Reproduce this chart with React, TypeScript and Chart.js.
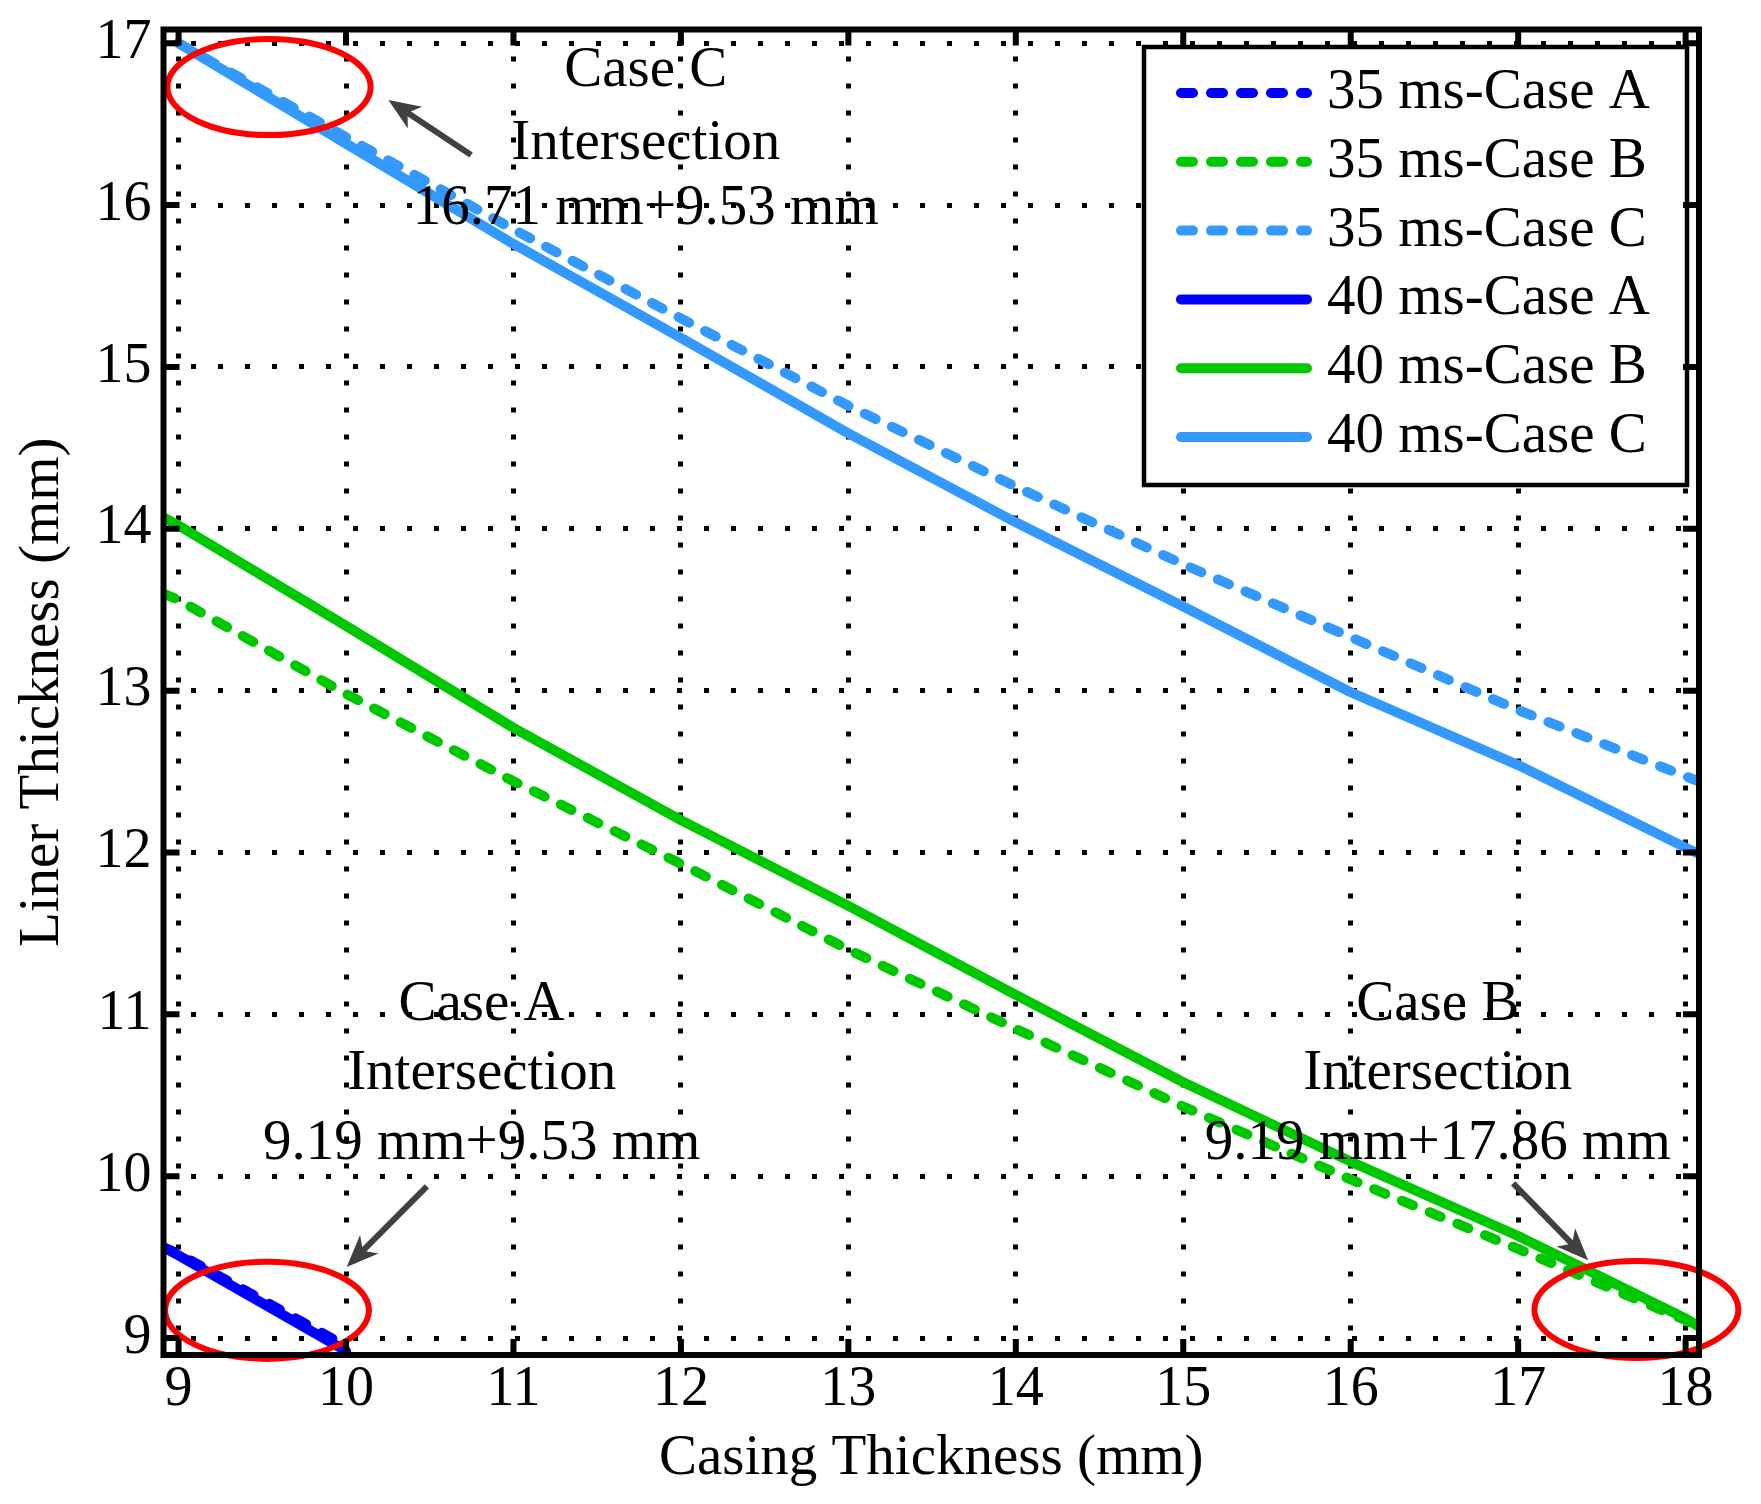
import { useEffect, useRef } from "react";
import { Chart, registerables } from "chart.js";
import type { ChartConfiguration, Plugin } from "chart.js";

Chart.register(...registerables);

const SERIF = '"Liberation Serif", "Times New Roman", serif';

// Casing thickness (mm) at which the curves were read
const casing = [8.91, 9, 10, 11, 12, 13, 14, 15, 16, 17, 18, 18.08];

// Liner thickness (mm) per case, null where a curve is not drawn
const liner35A = [9.56, 9.52, 8.95, null, null, null, null, null, null, null, null, null];
const liner35B = [13.6, 13.56, 12.98, 12.44, 11.93, 11.4, 10.91, 10.43, 9.98, 9.55, 9.11, 9.07];
const liner35C = [null, 17.0, 16.42, 15.85, 15.3, 14.76, 14.26, 13.78, 13.33, 12.88, 12.47, 12.44];
const liner40A = [9.56, 9.51, 8.92, null, null, null, null, null, null, null, null, null];
const liner40B = [14.07, 14.02, 13.4, 12.77, 12.2, 11.67, 11.12, 10.58, 10.09, 9.63, 9.12, 9.07];
const liner40C = [null, 17.0, 16.38, 15.76, 15.18, 14.59, 14.04, 13.52, 12.99, 12.54, 12.03, 11.99];

const seriesNames = [
  "35 ms-Case A",
  "35 ms-Case B",
  "35 ms-Case C",
  "40 ms-Case A",
  "40 ms-Case B",
  "40 ms-Case C",
];

const xTicks = [9, 10, 11, 12, 13, 14, 15, 16, 17, 18];
const yTicks = [9, 10, 11, 12, 13, 14, 15, 16, 17];

// text notes, red rings and arrows, in data units
const notes = [
  { x: 11.79, y: [16.83, 16.38, 15.976], lines: ["Case C", "Intersection", "16.71 mm+9.53 mm"] },
  { x: 10.81, y: [11.06, 10.63, 10.2], lines: ["Case A", "Intersection", "9.19 mm+9.53 mm"] },
  { x: 16.52, y: [11.06, 10.63, 10.2], lines: ["Case B", "Intersection", "9.19 mm+17.86 mm"] },
];
const rings = [
  { x: 9.54, y: 16.73, rx: 0.607, ry: 0.297 },
  { x: 9.528, y: 9.171, rx: 0.609, ry: 0.3 },
  { x: 17.706, y: 9.176, rx: 0.609, ry: 0.3 },
];
const arrows = [
  { from: [10.747, 16.31], to: [10.253, 16.65] },
  { from: [10.483, 9.937], to: [10.004, 9.439] },
  { from: [16.97, 9.956], to: [17.418, 9.48] },
];

const BLUE = "#0000FF";
const GREEN = "#00C800";
const SKY = "#3399FF";
const DASH = [12, 18];

function series(label: string, values: (number | null)[], color: string, dashed: boolean) {
  return {
    label,
    data: casing.map((x, i) => ({ x, y: values[i] })),
    borderColor: color,
    backgroundColor: color,
    borderWidth: 10,
    borderDash: dashed ? DASH : [],
    borderCapStyle: "round" as const,
    borderJoinStyle: "round" as const,
    pointRadius: 0,
    tension: 0,
    spanGaps: false,
    order: dashed ? 1 : 0,
  };
}

function drawArrow(ctx: CanvasRenderingContext2D, x0: number, y0: number, x1: number, y1: number) {
  const a = Math.atan2(y1 - y0, x1 - x0);
  const c = Math.cos(a);
  const s = Math.sin(a);
  const len = 32;
  const half = 13;
  const bx = x1 - len * c;
  const by = y1 - len * s;
  const nx = x1 - len * 0.72 * c;
  const ny = y1 - len * 0.72 * s;
  ctx.strokeStyle = "#404040";
  ctx.fillStyle = "#404040";
  ctx.lineWidth = 6;
  ctx.lineCap = "butt";
  ctx.beginPath();
  ctx.moveTo(x0, y0);
  ctx.lineTo(nx, ny);
  ctx.stroke();
  ctx.beginPath();
  ctx.moveTo(x1, y1);
  ctx.lineTo(bx + half * s, by - half * c);
  ctx.lineTo(nx, ny);
  ctx.lineTo(bx - half * s, by + half * c);
  ctx.closePath();
  ctx.fill();
}

const notesPlugin: Plugin<"line"> = {
  id: "notes",
  afterDatasetsDraw(chart) {
    const { ctx } = chart;
    const xs = chart.scales.x;
    const ys = chart.scales.y;
    ctx.save();

    // red rings
    ctx.strokeStyle = "#FF0000";
    ctx.lineWidth = 6;
    for (const r of rings) {
      const cx = xs.getPixelForValue(r.x);
      const cy = ys.getPixelForValue(r.y);
      const rx = Math.abs(xs.getPixelForValue(r.x + r.rx) - cx);
      const ry = Math.abs(ys.getPixelForValue(r.y + r.ry) - cy);
      ctx.beginPath();
      ctx.ellipse(cx, cy, rx, ry, 0, 0, Math.PI * 2);
      ctx.stroke();
    }

    for (const a of arrows) {
      drawArrow(
        ctx,
        xs.getPixelForValue(a.from[0]),
        ys.getPixelForValue(a.from[1]),
        xs.getPixelForValue(a.to[0]),
        ys.getPixelForValue(a.to[1])
      );
    }

    ctx.fillStyle = "#000";
    ctx.font = `57px ${SERIF}`;
    ctx.textAlign = "center";
    ctx.textBaseline = "middle";
    for (const n of notes) {
      n.lines.forEach((t, i) => {
        ctx.fillText(t, xs.getPixelForValue(n.x), ys.getPixelForValue(n.y[i]));
      });
    }

    // legend box in the top right corner
    const area = chart.chartArea;
    const left = area.right - 555;
    const top = area.top + 17.5;
    const w = 543;
    const h = 438;
    ctx.fillStyle = "#fff";
    ctx.fillRect(left, top, w, h);
    ctx.strokeStyle = "#000";
    ctx.lineWidth = 4.5;
    ctx.setLineDash([]);
    ctx.strokeRect(left, top, w, h);
    chart.data.datasets.forEach((ds: any, i) => {
      const y = top + 46 + i * 68.8;
      ctx.strokeStyle = ds.borderColor;
      ctx.lineWidth = ds.borderWidth;
      ctx.lineCap = "round";
      ctx.setLineDash(ds.borderDash);
      ctx.beginPath();
      ctx.moveTo(left + 32 + 5, y);
      ctx.lineTo(left + 168 - 5, y);
      ctx.stroke();
      ctx.setLineDash([]);
      ctx.fillStyle = "#000";
      ctx.textAlign = "left";
      ctx.fillText(ds.label, left + 183, y);
    });
    ctx.restore();
  },
};

const framePlugin: Plugin<"line"> = {
  id: "frame",
  afterDraw(chart) {
    const { ctx, chartArea: a } = chart;
    const xs = chart.scales.x;
    const ys = chart.scales.y;
    const tl = 16;
    ctx.save();
    ctx.strokeStyle = "#000";
    ctx.lineWidth = 6;
    ctx.lineCap = "butt";
    ctx.setLineDash([]);
    ctx.beginPath();
    for (const v of xTicks) {
      const p = xs.getPixelForValue(v);
      ctx.moveTo(p, a.bottom);
      ctx.lineTo(p, a.bottom - tl);
      ctx.moveTo(p, a.top);
      ctx.lineTo(p, a.top + tl);
    }
    for (const v of yTicks) {
      const p = ys.getPixelForValue(v);
      ctx.moveTo(a.left, p);
      ctx.lineTo(a.left + tl, p);
      ctx.moveTo(a.right, p);
      ctx.lineTo(a.right - tl, p);
    }
    ctx.stroke();
    ctx.lineJoin = "miter";
    ctx.strokeRect(a.left, a.top, a.right - a.left, a.bottom - a.top);
    ctx.restore();
  },
};

export default function App() {
  const canvasRef = useRef<HTMLCanvasElement | null>(null);

  useEffect(() => {
    if (!canvasRef.current) return;
    Chart.defaults.font.family = SERIF;
    Chart.defaults.color = "#000";

    const tickFont = { family: SERIF, size: 56 };
    const titleFont = { family: SERIF, size: 57 };
    const grid = { color: "#000", lineWidth: 5, drawTicks: false };
    const border = { display: false, dash: [5, 22] };

    const config: ChartConfiguration<"line"> = {
      type: "line",
      data: {
        datasets: [
          series(seriesNames[0], liner35A, BLUE, true),
          series(seriesNames[1], liner35B, GREEN, true),
          series(seriesNames[2], liner35C, SKY, true),
          series(seriesNames[3], liner40A, BLUE, false),
          series(seriesNames[4], liner40B, GREEN, false),
          series(seriesNames[5], liner40C, SKY, false),
        ] as any,
      },
      options: {
        animation: false,
        responsive: false,
        devicePixelRatio: 1,
        layout: { padding: { top: 29.5, right: 62, left: 0, bottom: 0 } },
        plugins: { legend: { display: false }, tooltip: { enabled: false } },
        scales: {
          x: {
            type: "linear",
            min: 8.91,
            max: 18.08,
            afterBuildTicks: (s) => {
              s.ticks = xTicks.map((value) => ({ value }));
            },
            afterFit: (s: any) => {
              s.height = 149;
              s.paddingLeft = 0;
              s.paddingRight = 0;
            },
            grid,
            border,
            ticks: { font: tickFont, color: "#000", padding: 2, maxRotation: 0, autoSkip: false },
            title: {
              display: true,
              text: "Casing Thickness (mm)",
              font: titleFont,
              color: "#000",
              padding: { top: 0, bottom: 11 },
            },
          },
          y: {
            type: "linear",
            min: 8.895,
            max: 17.085,
            afterBuildTicks: (s) => {
              s.ticks = yTicks.map((value) => ({ value }));
            },
            afterFit: (s: any) => {
              s.width = 163.5;
              s.paddingTop = 0;
              s.paddingBottom = 0;
            },
            grid,
            border,
            ticks: { font: tickFont, color: "#000", padding: 12, autoSkip: false },
            title: {
              display: true,
              text: "Liner Thickness (mm)",
              font: titleFont,
              color: "#000",
              padding: { top: 9, bottom: 0 },
            },
          },
        },
      },
      plugins: [notesPlugin, framePlugin],
    };

    const chart = new Chart(canvasRef.current, config);
    return () => {
      chart.destroy();
    };
  }, []);

  return (
    <div style={{ position: "absolute", left: 0, top: 0, width: 1761, height: 1504, background: "#fff" }}>
      <canvas ref={canvasRef} width={1761} height={1504} style={{ width: 1761, height: 1504 }} />
    </div>
  );
}
